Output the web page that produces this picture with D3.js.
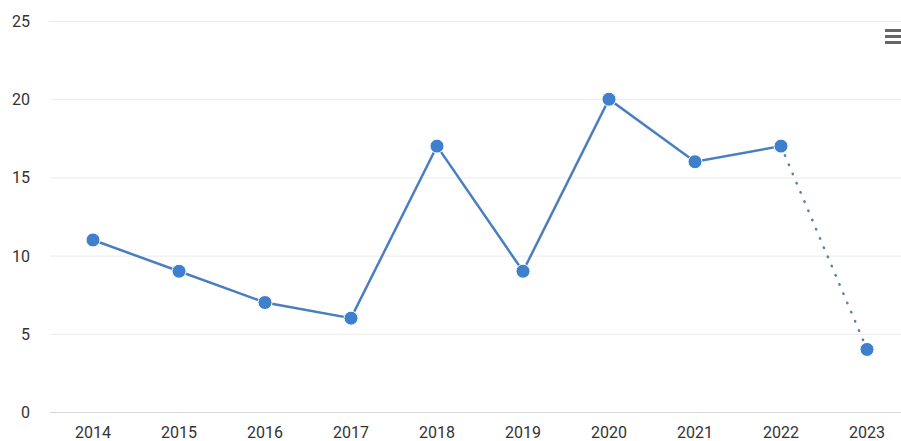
<!DOCTYPE html>
<html><head><meta charset="utf-8">
<script src="https://cdn.jsdelivr.net/npm/d3@7"></script>
<style>body{margin:0;background:#fff;}svg{display:block;font-family:Roboto,"Noto Sans",sans-serif;}</style>
</head><body>
<script>
const years = ["2014","2015","2016","2017","2018","2019","2020","2021","2022","2023"];
const values = [11, 9, 7, 6, 17, 9, 20, 16, 17, 4];
const yTicks = [0, 5, 10, 15, 20, 25];

const W = 901, H = 441;
const svg = d3.select("body").append("svg").attr("width", W).attr("height", H);
const x = d3.scalePoint().domain(years).range([93, 867]);
const y = d3.scaleLinear().domain([0, 25]).range([412, 21]);

// gridlines
svg.append("g").selectAll("line").data(yTicks).join("line")
  .attr("x1", 50).attr("x2", W)
  .attr("y1", d => y(d) + 0.5).attr("y2", d => y(d) + 0.5)
  .attr("stroke", d => d === 0 ? "#d8d8d8" : "#ebebeb").attr("stroke-width", 1);

// y labels
svg.append("g").selectAll("text").data(yTicks).join("text")
  .attr("x", 30).attr("y", d => y(d) + 6)
  .attr("text-anchor", "end").attr("font-size", 16).attr("fill", "#333")
  .text(d => d);

// x labels
svg.append("g").selectAll("text").data(years).join("text")
  .attr("x", d => x(d)).attr("y", 438)
  .attr("text-anchor", "middle").attr("font-size", 16).attr("fill", "#333")
  .text(d => d);

const pts = years.map((yr, i) => ({yr, v: values[i]}));
const line = d3.line().x(d => x(d.yr)).y(d => y(d.v));
svg.append("path").datum(pts.slice(0, 9)).attr("d", line)
  .attr("fill", "none").attr("stroke", "#4a7fbf").attr("stroke-width", 2.5);
svg.append("path").datum(pts.slice(8)).attr("d", line)
  .attr("fill", "none").attr("stroke", "#5a7fae").attr("stroke-width", 2.5)
  .attr("stroke-dasharray", "0.5,9.5").attr("stroke-linecap", "round");

svg.append("g").selectAll("circle").data(pts).join("circle")
  .attr("cx", d => x(d.yr)).attr("cy", d => y(d.v)).attr("r", 7)
  .attr("fill", "#3f80cc").attr("stroke", "#fff").attr("stroke-width", 1);

// menu icon
svg.append("g").selectAll("rect").data([0,1,2]).join("rect")
  .attr("x", 885).attr("y", d => 29 + d*6).attr("width", 16).attr("height", 3)
  .attr("fill", "#666");
</script>
</body></html>
